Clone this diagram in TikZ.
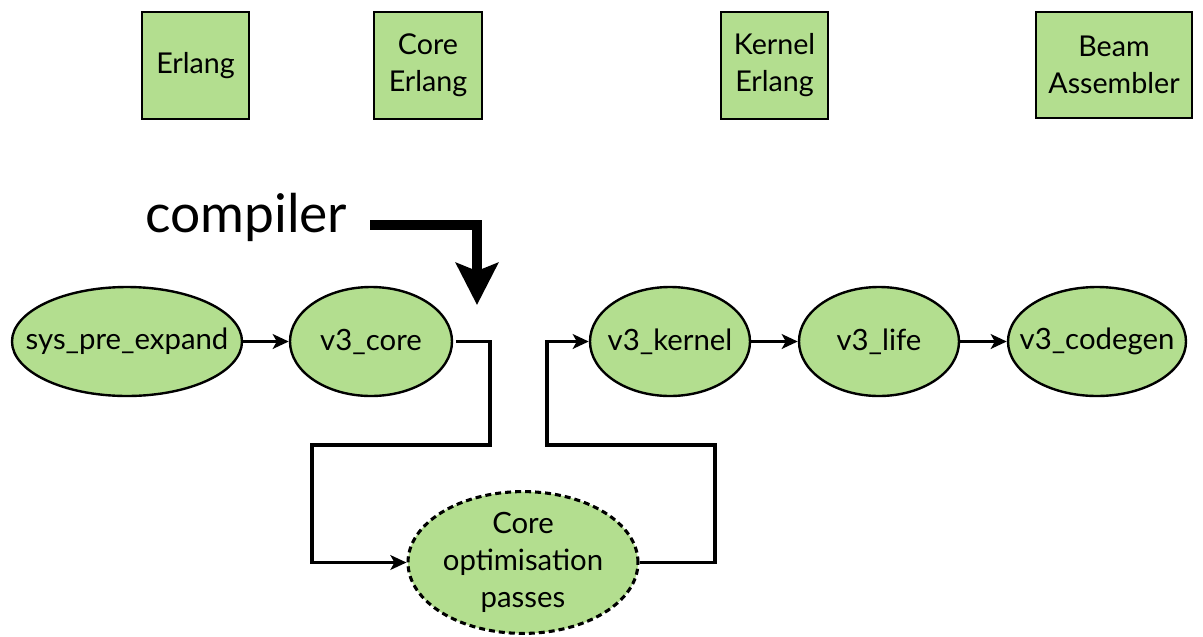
\documentclass[tikz,border=0pt]{standalone}
\usepackage{fontspec}
\setmainfont{Lato}
\usetikzlibrary{shapes.geometric,arrows.meta}
\definecolor{nodegreen}{HTML}{B3DE8F}
\newcommand{\zw}[1]{\makebox[0pt]{#1}}
\begin{document}
\begin{tikzpicture}[x=0.75pt,y=-0.75pt,
  proc/.style={ellipse,draw=black,line width=1.8pt,fill=nodegreen,minimum height=81.75pt,inner sep=0pt,align=center,font=\fontsize{22}{27.75}\selectfont},
  lang/.style={rectangle,draw=black,line width=2pt,fill=nodegreen,inner sep=0pt,minimum height=80.25pt,align=center,font=\fontsize{21.5}{27.75}\selectfont},
  flow/.style={line width=2.8pt,-{Stealth[length=12pt,width=11pt,inset=3pt]}},
  bigflow/.style={line width=7.5pt,-{Stealth[length=31.5pt,width=31.5pt,inset=6pt]}},
]
\useasboundingbox (0,0) rectangle (1203,636);
% language boxes
\node[lang,minimum width=80.25pt] (erl) at (195.5,65.5) {Erlang};
\node[lang,minimum width=81pt] (cerl) at (428,65.5) {\raisebox{-2pt}{Core}\\\raisebox{-2pt}{Erlang}};
\node[lang,minimum width=80.25pt] (kerl) at (774.5,65.5) {\raisebox{-2pt}{Kernel}\\\raisebox{-2pt}{Erlang}};
\node[lang,minimum width=117pt,minimum height=79.5pt] (beam) at (1114,65) {Beam\\Assembler};
% compiler label
\node[font=\fontsize{40}{48}\selectfont,anchor=base west,inner sep=0pt] (comp) at (145,232) {compiler};
\coordinate (cstart) at (370,225);
\coordinate (ctip) at (477,305);
\draw[bigflow] (cstart) -| (ctip);
% passes
\node[proc,minimum width=172.5pt] (sys) at (127,341.5) {\zw{sys\_pre\_expand}};
\node[proc,minimum width=121.5pt] (core) at (371,341.5) {\zw{v3\_core}};
\node[proc,minimum width=120pt] (kern) at (670,341.5) {\zw{v3\_kernel}};
\node[proc,minimum width=120pt] (life) at (879,341.5) {\zw{v3\_life}};
\node[proc,minimum width=133.5pt] (cgen) at (1097,341.5) {\zw{v3\_codegen}};
\node[proc,dash pattern=on 4.5pt off 3pt,line width=2.3pt,minimum width=172.5pt,minimum height=92.25pt] (opt) at (523,562.5) {\zw{Core}\\\zw{optimisation}\\\zw{passes}};
% connectors
\coordinate (c1) at (490,445);
\coordinate (c2) at (312,445);
\coordinate (c3) at (715,445);
\coordinate (c4) at (547,445);
\draw[flow] (sys) -- (core);
\draw[flow] (kern) -- (life);
\draw[flow] (life) -- (cgen);
\draw[flow] ([xshift=2pt]core.east) -| (c1) -- (c2) |- (opt.west);
\draw[flow] (opt.east) -| (c3) -- (c4) |- (kern.west);
\end{tikzpicture}
\end{document}
